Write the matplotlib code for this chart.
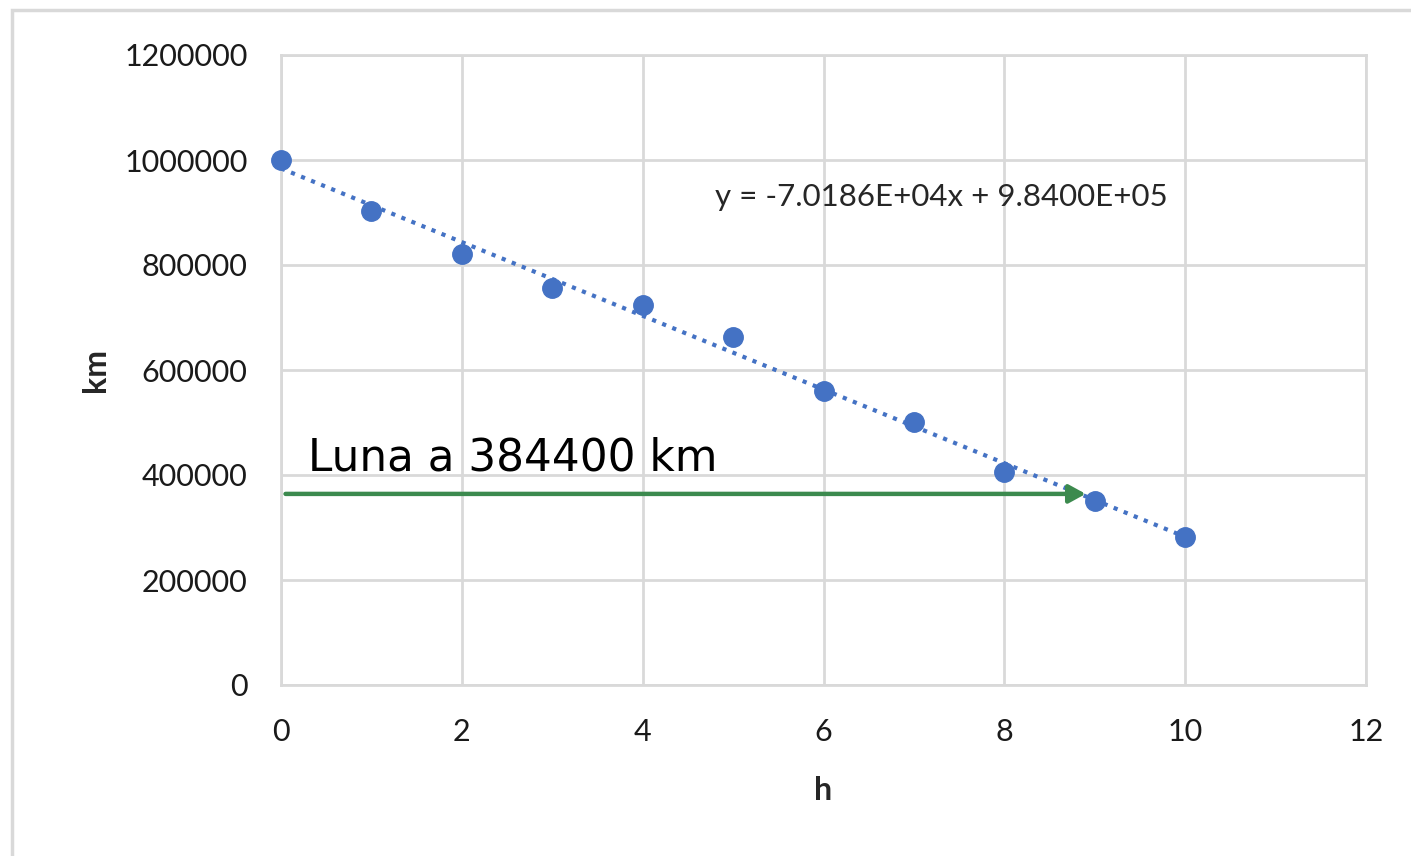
import matplotlib
matplotlib.use("Agg")
import matplotlib.pyplot as plt
import numpy as np
from matplotlib.patches import Rectangle

hours = [0, 1, 2, 3, 4, 5, 6, 7, 8, 9, 10]
km = [1000000, 903000, 821000, 756000, 724000, 663000, 560000, 501000, 406000, 350000, 282000]
slope = -7.0186e4
intercept = 9.8400e5
moon_km = 364000
arrow_start = 0.05
arrow_end = 8.9
eq_text = "y = -7.0186E+04x + 9.8400E+05"
moon_text = "Luna a 384400 km"

plt.rcParams['font.family'] = ['Lato', 'DejaVu Sans']

fig = plt.figure(figsize=(14.11, 8.56), dpi=100)
fig.patches.append(Rectangle((12/1411, -0.1), 1.2, 1 - 10/856 + 0.1, transform=fig.transFigure,
                             fill=False, edgecolor='#D9D9D9', linewidth=2.5))
ax = fig.add_axes([281/1411, (856-685)/856, 1085/1411, 630/856])

grid_c = '#D9D9D9'
ax.set_xlim(0, 12)
ax.set_ylim(0, 1200000)
ax.set_xticks(range(0, 13, 2))
ax.set_yticks(range(0, 1200001, 200000))
ax.set_yticklabels([str(v) for v in range(0, 1200001, 200000)])
ax.grid(True, color=grid_c, linewidth=2)
ax.set_axisbelow(True)
for s in ax.spines.values():
    s.set_color(grid_c)
    s.set_linewidth(2)
ax.tick_params(length=0, labelsize=22, pad=24)
ax.tick_params(axis='x', pad=24)
for lab in ax.get_xticklabels() + ax.get_yticklabels():
    lab.set_color('#1a1a1a')

xs = np.array([0, 10])
ax.plot(xs, slope * xs + intercept, linestyle=(0, (1, 1.6)), color='#4472C4', linewidth=3, zorder=3)
ax.plot(hours, km, 'o', color='#4472C4', markersize=14, zorder=4, clip_on=False)

ax.text(4.8, 930000, eq_text, fontsize=22.5, color='#262626', va='center', ha='left')
ax.annotate('', xy=(arrow_end, moon_km), xytext=(arrow_start, moon_km),
            arrowprops=dict(arrowstyle='-|>,head_length=1.0,head_width=0.55', color='#3C8A4E',
                            lw=3.2, shrinkA=0, shrinkB=0), zorder=5)
ax.text(0.3, 432000, moon_text, fontsize=31.5, color='black', va='center', ha='left',
        family='DejaVu Sans')

ax.set_xlabel('h', fontsize=23, fontweight='bold', color='#262626', labelpad=21)
ax.set_ylabel('km', fontsize=23, fontweight='bold', color='#262626', labelpad=10)

fig.savefig('out.png', dpi=100)
